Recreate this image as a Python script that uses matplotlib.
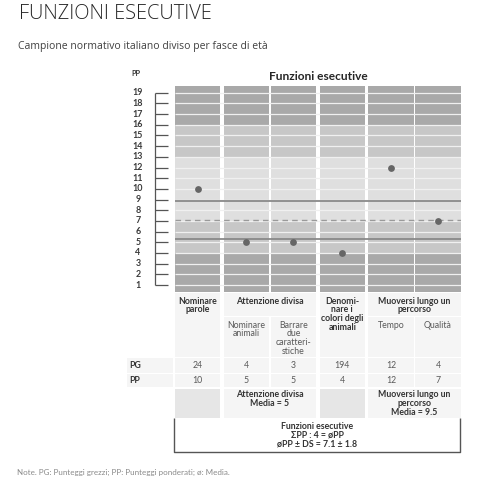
import matplotlib
matplotlib.use("Agg")
import matplotlib.pyplot as plt
from matplotlib.patches import Rectangle
import numpy as np

# ---------------- data ----------------
col_labels = ["Nominare parole", "Nominare animali", "Barrare due caratteristiche",
              "Denominare i colori degli animali", "Tempo", "Qualità"]
pg_values = [24, 4, 3, 194, 12, 4]
pp_values = [10, 5, 5, 4, 12, 7]
pp_ticks = list(range(1, 20))
mean_pp = 7.1
sd_pp = 1.8
band_edges = [0.345, 4, 7, 13, 16, 19.63]
band_colors = ["#a9a9a9", "#c7c7c7", "#dfdfdf", "#c7c7c7", "#a9a9a9"]

FONT = ["Lato", "DejaVu Sans"]
plt.rcParams['font.family'] = FONT

W, H = 480, 482
fig = plt.figure(figsize=(W / 100, H / 100), dpi=100)


def fax(x0, y0, x1, y1):
    return fig.add_axes([x0 / W, 1 - y1 / H, (x1 - x0) / W, (y1 - y0) / H])


# column geometry (data units, column width 1)
g, s = 0.073, 0.037
lefts = np.array([0, 1 + g, 2 + g + s, 3 + 2 * g + s, 4 + 3 * g + s, 5 + 3 * g + 2 * s])
centers = lefts + 0.5
total = 6 + 3 * g + 2 * s

CX0, CX1, CY0, CY1 = 175, 460.7, 86, 292

# ---------------- overlay (pixel coords) ----------------
ov = fax(0, 0, W, H)
ov.set_xlim(0, W)
ov.set_ylim(H, 0)
ov.axis("off")


def px(xd):
    return CX0 + xd * (CX1 - CX0) / total


# ---------------- chart ----------------
ax = fax(CX0, CY0, CX1, CY1)
ax.set_xlim(0, total)
ax.set_ylim(band_edges[0], band_edges[-1])
ax.axis("off")
for lo, hi, c in zip(band_edges[:-1], band_edges[1:], band_colors):
    ax.bar(centers, hi - lo, bottom=lo, width=1, color=c, linewidth=0)
ax.hlines(pp_ticks, 0, total, colors="#f0f0f0", linewidth=0.9)
ax.hlines([mean_pp + sd_pp, mean_pp - sd_pp], 0, total, colors="#8a8a8a", linewidth=1.3)
ax.hlines([mean_pp], 0, total, colors="#9a9a9a", linewidth=1.0, linestyles=(0, (4, 3)))
ax.scatter(centers, pp_values, s=24, color="#666666", zorder=5, linewidths=0)

# y bracket
bax = fax(120, CY0, CX0, CY1)
bax.set_xlim(120, CX0)
bax.set_ylim(band_edges[0], band_edges[-1])
bax.axis("off")
bax.vlines(154.5, pp_ticks[0], pp_ticks[-1], colors="#555555", linewidth=0.9)
bax.hlines(pp_ticks, 154.5, 168, colors="#555555", linewidth=0.9)
for t in pp_ticks:
    bax.text(138, t, str(t), ha="center", va="center", fontsize=6.4,
             fontweight="bold", color="#3a3a3a")

# titles
ov.text(19, 14, "FUNZIONI ESECUTIVE", fontsize=14.4, color="#262626",
        family=["Open Sans", "DejaVu Sans"], fontweight="light", va="center", ha="left")
ov.text(18, 47, "Campione normativo italiano diviso per fasce di età", fontsize=7.5,
        color="#404040", family=["Open Sans", "DejaVu Sans"], va="center", ha="left")
ov.text(318, 76, "Funzioni esecutive", fontsize=8.6, fontweight="bold",
        color="#262626", ha="center", va="center")
ov.text(136, 74, "PP", fontsize=5.2, fontweight="bold", color="#333333",
        ha="center", va="center")

# ---------------- table ----------------
CELL = "#f5f5f5"
DARKCELL = "#e6e6e6"


def cell(x0, x1, y0, y1, color=CELL):
    ov.add_patch(Rectangle((x0, y0), x1 - x0, y1 - y0, facecolor=color,
                           edgecolor="none", zorder=1))


def col_span(i, j=None):
    j = i if j is None else j
    return px(lefts[i]), px(lefts[j] + 1)


BOLD = dict(fontsize=6.3, fontweight="bold", color="#333333", ha="center", va="center", zorder=3)
NORM = dict(fontsize=6.3, color="#595959", ha="center", va="center", zorder=3)
LS = 8.8

rows = {"grp": (292.8, 315.6), "sub": (317.0, 356.6), "pg": (358.2, 372.6),
        "pp": (374.0, 387.0), "mean": (388.6, 417.6)}

# header cells
for i, j in [(0, 0), (3, 3)]:
    x0, x1 = col_span(i, j)
    cell(x0, x1, rows["grp"][0], rows["sub"][1])
for i, j in [(1, 2), (4, 5)]:
    x0, x1 = col_span(i, j)
    cell(x0, x1, rows["grp"][0], rows["grp"][1])
for i in [1, 2, 4, 5]:
    x0, x1 = col_span(i)
    cell(x0, x1, rows["sub"][0], rows["sub"][1])


def lines(x, y0, txts, style):
    for k, t in enumerate(txts):
        ov.text(x, y0 + k * LS, t, **style)


cx = [px(c) for c in centers]
lines(cx[0], 301, ["Nominare", "parole"], BOLD)
lines((cx[1] + cx[2]) / 2, 301, ["Attenzione divisa"], BOLD)
lines(cx[3], 301, ["Denomi-", "nare i", "colori degli", "animali"], BOLD)
lines((cx[4] + cx[5]) / 2, 301, ["Muoversi lungo un", "percorso"], BOLD)
lines(cx[1], 325, ["Nominare", "animali"], NORM)
lines(cx[2], 325, ["Barrare", "due", "caratteri-", "stiche"], NORM)
lines(cx[4], 325, ["Tempo"], NORM)
lines(cx[5], 325, ["Qualità"], NORM)

# PG / PP rows
for key, vals, lab in [("pg", pg_values, "PG"), ("pp", pp_values, "PP")]:
    y0, y1 = rows[key]
    cell(126.5, 172.5, y0, y1)
    for i, v in enumerate(vals):
        x0, x1 = col_span(i)
        cell(x0, x1, y0, y1)
        ov.text(cx[i], (y0 + y1) / 2, str(v), **NORM)
    ov.text(129, (y0 + y1) / 2, lab, fontsize=6.3, fontweight="bold",
            color="#333333", ha="left", va="center", zorder=3)

# mean row
y0, y1 = rows["mean"]
for i in [0, 3]:
    x0, x1 = col_span(i)
    cell(x0, x1, y0, y1, DARKCELL)
for i, j in [(1, 2), (4, 5)]:
    x0, x1 = col_span(i, j)
    cell(x0, x1, y0, y1)
lines((cx[1] + cx[2]) / 2, 394.8, ["Attenzione divisa", "Media = 5"], BOLD)
lines((cx[4] + cx[5]) / 2, 394.8, ["Muoversi lungo un", "percorso", "Media = 9.5"], BOLD)

# summary box
bx0, bx1 = px(lefts[0]) - 0.8, px(lefts[5] + 1) - 0.3
ov.plot([bx0, bx0, bx1, bx1], [418, 452, 452, 418], color="#555555", lw=1.0,
        solid_capstyle="butt", zorder=3)
midx = (bx0 + bx1) / 2
lines(midx, 426.3, ["Funzioni esecutive", "ΣPP : 4 = øPP",
                    f"øPP ± DS = {mean_pp} ± {sd_pp}"], BOLD)

# note
ov.text(17, 472, "Note. PG: Punteggi grezzi; PP: Punteggi ponderati; ø: Media.",
        fontsize=5.8, color="#8a8a8a", ha="left", va="center")

fig.savefig("out.png", dpi=100)
